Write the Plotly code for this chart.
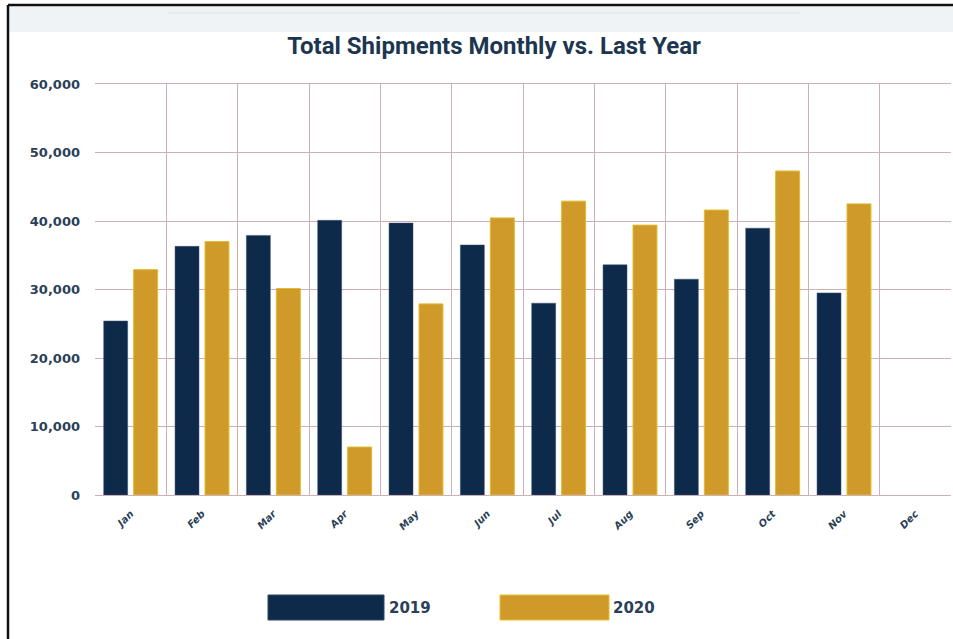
import plotly.graph_objects as go

months = ["Jan", "Feb", "Mar", "Apr", "May", "Jun", "Jul", "Aug", "Sep", "Oct", "Nov", "Dec"]
shipments_2019 = [25400, 36300, 37900, 40100, 39700, 36500, 28000, 33600, 31500, 38950, 29500, None]
shipments_2020 = [32900, 37000, 30150, 7000, 27900, 40450, 42900, 39400, 41600, 47300, 42500, None]
series_names = ["2019", "2020"]
y_ticks = [0, 10000, 20000, 30000, 40000, 50000, 60000]

NAVY = "#0e2a4b"
GOLD = "#cf9a2a"
TEXT = "#2b3f57"
GRID = "#cdb0b6"

W, H = 953, 639
L, R, T, B = 95, 2, 84, 144
pw, ph = W - L - R, H - T - B


def px(x):
    return (x - L) / pw


def py(y):
    return (H - B - y) / ph


fig = go.Figure()
fig.add_trace(go.Bar(x=months, y=shipments_2019, name=series_names[0],
                     marker=dict(color=NAVY, line=dict(color="#3a5270", width=0.5))))
fig.add_trace(go.Bar(x=months, y=shipments_2020, name=series_names[1],
                     marker=dict(color=GOLD, line=dict(color="#e2bb2c", width=1))))

shapes = [
    # light top band
    dict(type="rect", xref="paper", yref="paper", x0=px(9), x1=px(953), y0=py(32), y1=py(6),
         fillcolor="#eff3f5", line=dict(width=0), layer="below"),
    dict(type="line", xref="paper", yref="paper", x0=px(168), x1=px(800), y0=py(13), y1=py(13),
         line=dict(color="#dfe5ea", width=1)),
    # frame
    dict(type="line", xref="paper", yref="paper", x0=px(8), x1=px(8), y0=py(5), y1=py(639),
         line=dict(color="#111111", width=2.5)),
    dict(type="line", xref="paper", yref="paper", x0=px(8), x1=px(953), y0=py(5), y1=py(5),
         line=dict(color="#111111", width=2.5)),
    # legend swatches
    dict(type="rect", xref="paper", yref="paper", x0=px(268), x1=px(384), y0=py(620), y1=py(595),
         fillcolor=NAVY, line=dict(color="#2f4766", width=1)),
    dict(type="rect", xref="paper", yref="paper", x0=px(500), x1=px(609), y0=py(620), y1=py(595),
         fillcolor=GOLD, line=dict(color="#e6c02c", width=1)),
]

annotations = [
    dict(text=series_names[0], xref="paper", yref="paper", x=px(387), y=py(608), xanchor="left",
         yanchor="middle", showarrow=False, font=dict(family="DejaVu Sans", size=15, color=TEXT, weight="bold")),
    dict(text=series_names[1], xref="paper", yref="paper", x=px(611), y=py(608), xanchor="left",
         yanchor="middle", showarrow=False, font=dict(family="DejaVu Sans", size=15, color=TEXT, weight="bold")),
]

fig.update_layout(
    width=W, height=H,
    margin=dict(l=L, r=R, t=T, b=B),
    paper_bgcolor="white", plot_bgcolor="white",
    barmode="group", bargap=0.16, bargroupgap=0.2,
    showlegend=False,
    title=dict(text="<b>Total Shipments Monthly vs. Last Year</b>", x=(494) / W, xanchor="center",
               y=1 - 46 / H, yanchor="middle", yref="container",
               font=dict(family="Roboto", size=24, color="#1d3650")),
    shapes=shapes, annotations=annotations,
    font=dict(family="DejaVu Sans", color=TEXT),
)

fig.update_xaxes(type="category", categoryorder="array", categoryarray=months,
                 tickson="boundaries", showgrid=True, gridcolor=GRID, gridwidth=1,
                 showline=True, linecolor=GRID, mirror=True, ticks="",
                 tickangle=-45, ticklabelstandoff=8,
                 tickfont=dict(family="DejaVu Sans", size=10, color=TEXT, weight="bold", style="italic"),
                 range=[-0.5, 11.5])
fig.update_yaxes(range=[0, 60000], tickvals=y_ticks, tickformat=",d",
                 showgrid=True, gridcolor=GRID, gridwidth=1, zeroline=False,
                 showline=False, ticks="", ticklabelstandoff=14,
                 tickfont=dict(family="DejaVu Sans", size=13, color=TEXT, weight="bold"))

fig.write_html("out.html", config={"displayModeBar": False},
               post_script="document.body.style.margin='0';document.body.style.overflow='hidden';")
